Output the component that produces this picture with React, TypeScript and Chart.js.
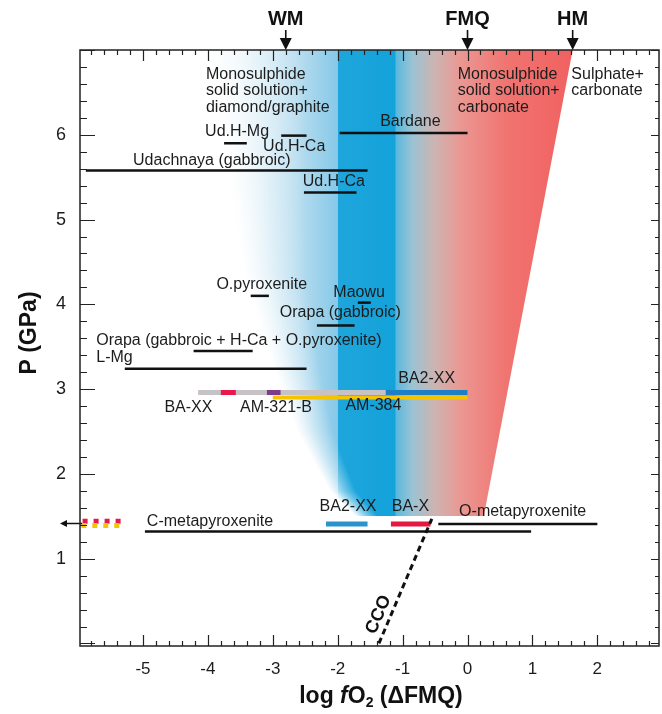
import React, { useEffect, useRef } from 'react';
import { Chart, registerables } from 'chart.js';

Chart.register(...registerables);

const FONT = '"Liberation Sans", Arial, Helvetica, sans-serif';
const TXT = '#1c1c1c';

// axis ranges (log fO2 ΔFMQ, P GPa)
const X_MIN = -5.97;
const X_MAX = 2.95;
const Y_MIN = -0.03;
const Y_MAX = 7.0;

const xTickLabels = [-5, -4, -3, -2, -1, 0, 1, 2];
const yTickLabels = [1, 2, 3, 4, 5, 6];

// black range segments
const segNames = [
  'Ud.H-Mg', 'Ud.H-Ca (upper)', 'Bardane', 'Udachnaya (gabbroic)', 'Ud.H-Ca (lower)',
  'O.pyroxenite', 'Maowu', 'Orapa (gabbroic)', 'Orapa (gabbroic + H-Ca + O.pyroxenite)',
  'L-Mg', 'C-metapyroxenite', 'O-metapyroxenite',
];
const segFrom = [-3.75, -2.87, -1.97, -5.88, -2.52, -3.34, -1.69, -2.32, -4.22, -5.28, -4.97, -0.45];
const segTo = [-3.40, -2.48, 0.0, -1.54, -1.71, -3.06, -1.49, -1.74, -3.31, -2.48, 0.98, 2.0];
const segP = [5.90, 5.99, 6.02, 5.58, 5.32, 4.10, 4.02, 3.75, 3.45, 3.24, 1.32, 1.41];

// coloured experimental bars (drawn in this order, later on top)
const barNames = ['BA-XX range', 'AM-384', 'BA2-XX', 'BA-XX', 'AM-321-B', 'BA2-XX (low P)', 'BA-X'];
const barFrom = [-4.15, -3.0, -1.26, -3.80, -3.09, -2.18, -1.18];
const barTo = [0.0, 0.0, 0.0, -3.57, -2.88, -1.54, -0.57];
const barP = [2.96, 2.90, 2.96, 2.96, 2.96, 1.41, 1.41];
const barColors = ['#c6c2c6', '#f4c400', '#1f7fc6', '#e8174c', '#7d3c8c', '#2b93cc', '#e3173f'];

// dotted extension to lower fO2 (left edge)
const extFrom = [-5.93, -5.95];
const extTo = [-5.30, -5.32];
const extP = [1.44, 1.39];
const extColors = ['#e8174c', '#f4c400'];

// CCO buffer curve
const ccoV = [-1.365, -0.55];
const ccoP = [0.0, 1.47];

// oxygen buffers on top axis
const bufferNames = ['WM', 'FMQ', 'HM'];
const bufferV = [-2.8, 0.0, 1.62];

// coloured stability field: left (soft) boundary and right boundary
const leftEdgeP = [1.5, 1.8, 2.5, 3.3, 4.4, 5.6, 7.0];
const leftEdgeV = [-1.55, -1.92, -2.35, -2.65, -2.98, -3.1, -3.25];
const rightEdgeP = [1.5, 7.0];
const rightEdgeV = [0.25, 1.62];
const fieldStopV = [-3.6, -2.6, -2.0, -1.99, -1.12, -1.10, -0.85, -0.5, -0.1, 0.6, 1.7];
const fieldStopC = ['#dff0f8', '#b6dcef', '#86c9e8', '#1ea6dc', '#13a2da', '#5ab8de', '#9bc3d4', '#cdb4b1', '#eb9792', '#f07470', '#f06060'];

// annotation texts
const labelText = [
  'Monosulphide|solid solution+|diamond/graphite',
  'Monosulphide|solid solution+|carbonate',
  'Sulphate+|carbonate',
  'Ud.H-Mg', 'Ud.H-Ca', 'Bardane', 'Udachnaya (gabbroic)', 'Ud.H-Ca',
  'O.pyroxenite', 'Maowu', 'Orapa (gabbroic)',
  'Orapa (gabbroic + H-Ca + O.pyroxenite)', 'L-Mg',
  'BA-XX', 'AM-321-B', 'AM-384', 'BA2-XX',
  'BA2-XX', 'BA-X', 'C-metapyroxenite', 'O-metapyroxenite',
];
const labelV = [
  -4.03, -0.15, 1.60,
  -3.55, -2.67, -0.88, -3.94, -2.06,
  -3.17, -1.67, -1.96,
  -5.72, -5.72,
  -4.30, -2.95, -1.45, -0.63,
  -1.84, -0.88, -4.94, 0.85,
];
const labelP = [
  6.71, 6.71, 6.71,
  6.04, 5.86, 6.16, 5.69, 5.45,
  4.23, 4.14, 3.90,
  3.57, 3.37,
  2.78, 2.78, 2.80, 3.13,
  1.61, 1.61, 1.44, 1.55,
];
const labelAlign = [
  'left', 'left', 'left',
  'center', 'center', 'center', 'center', 'center',
  'center', 'center', 'center',
  'left', 'left',
  'center', 'center', 'center', 'center',
  'center', 'center', 'left', 'center',
];
const ccoLabel = { text: 'CCO', v: -1.37, p: 0.34 };

function interp(xs: number[], ys: number[], x: number) {
  if (x <= xs[0]) return ys[0];
  for (let i = 1; i < xs.length; i++) {
    if (x <= xs[i]) {
      const t = (x - xs[i - 1]) / (xs[i] - xs[i - 1]);
      return ys[i - 1] + t * (ys[i] - ys[i - 1]);
    }
  }
  return ys[ys.length - 1];
}

const customPlugin = {
  id: 'customDraw',
  beforeDatasetsDraw(chart: any) {
    const { ctx, chartArea: ca, scales } = chart;
    const x = scales.x, y = scales.y;
    ctx.save();
    ctx.beginPath();
    ctx.rect(ca.left, ca.top, ca.right - ca.left, ca.bottom - ca.top);
    ctx.clip();
    const g0 = x.getPixelForValue(X_MIN), g1 = x.getPixelForValue(X_MAX);
    const grad = ctx.createLinearGradient(g0, 0, g1, 0);
    fieldStopV.forEach((v, i) => grad.addColorStop((v - X_MIN) / (X_MAX - X_MIN), fieldStopC[i]));
    const pTop = leftEdgeP[leftEdgeP.length - 1];
    const pBot = leftEdgeP[0];
    const yTop = Math.floor(y.getPixelForValue(pTop)) - 1;
    const yBot = Math.round(y.getPixelForValue(pBot));
    for (let py = yTop; py < yBot; py++) {
      const P = y.getValueForPixel(py + 0.5);
      const t = Math.max(0, Math.min(1, (P - pBot) / (pTop - pBot)));
      const fw = 22 + 75 * t;
      const xc = x.getPixelForValue(interp(leftEdgeP, leftEdgeV, P));
      const xs = xc - fw / 2;
      const xr = x.getPixelForValue(interp(rightEdgeP, rightEdgeV, P));
      ctx.fillStyle = grad;
      ctx.fillRect(xs, py, xr - xs, 1);
      const wg = ctx.createLinearGradient(xs, 0, xs + fw, 0);
      wg.addColorStop(0, 'rgba(255,255,255,1)');
      wg.addColorStop(0.5, 'rgba(255,255,255,0.45)');
      wg.addColorStop(1, 'rgba(255,255,255,0)');
      ctx.fillStyle = wg;
      ctx.fillRect(xs - 1, py, fw + 1, 1);
    }
    ctx.restore();
  },
  afterDatasetsDraw(chart: any) {
    const { ctx, chartArea: ca, scales } = chart;
    const x = scales.x, y = scales.y;
    ctx.save();
    // annotation labels
    ctx.fillStyle = TXT;
    ctx.font = `16px ${FONT}`;
    ctx.textBaseline = 'middle';
    labelText.forEach((t, i) => {
      const lines = t.split('|');
      ctx.textAlign = labelAlign[i] as CanvasTextAlign;
      const px = x.getPixelForValue(labelV[i]);
      const py = y.getPixelForValue(labelP[i]);
      lines.forEach((ln, k) => ctx.fillText(ln, px, py + k * 16.5));
    });
    // CCO label rotated along curve
    {
      const x0 = x.getPixelForValue(ccoV[0]), y0 = y.getPixelForValue(ccoP[0]);
      const x1 = x.getPixelForValue(ccoV[1]), y1 = y.getPixelForValue(ccoP[1]);
      const ang = Math.atan2(y1 - y0, x1 - x0);
      ctx.save();
      ctx.translate(x.getPixelForValue(ccoLabel.v), y.getPixelForValue(ccoLabel.p));
      ctx.rotate(ang);
      ctx.font = `bold 18px ${FONT}`;
      ctx.textAlign = 'center';
      ctx.fillStyle = '#111';
      ctx.fillText(ccoLabel.text, 0, 0);
      ctx.restore();
    }
    // left arrow for extension
    {
      const py = y.getPixelForValue((extP[0] + extP[1]) / 2);
      const xa = ca.left;
      ctx.strokeStyle = '#111';
      ctx.fillStyle = '#111';
      ctx.lineWidth = 1.5;
      ctx.beginPath();
      ctx.moveTo(xa + 2, py);
      ctx.lineTo(xa - 14, py);
      ctx.stroke();
      ctx.beginPath();
      ctx.moveTo(xa - 20, py);
      ctx.lineTo(xa - 13, py - 3.5);
      ctx.lineTo(xa - 13, py + 3.5);
      ctx.closePath();
      ctx.fill();
    }
    // frame
    ctx.strokeStyle = '#222';
    ctx.lineWidth = 1.5;
    ctx.strokeRect(ca.left, ca.top, ca.right - ca.left, ca.bottom - ca.top);
    // inward ticks
    ctx.lineWidth = 1.2;
    ctx.beginPath();
    const step = 0.2;
    for (let k = Math.ceil(X_MIN / step); k * step <= X_MAX + 1e-9; k++) {
      const v = k * step;
      const major = Math.abs(v - Math.round(v)) < 1e-6;
      const px = Math.round(x.getPixelForValue(v)) + 0.5;
      const len = major ? 11 : 5;
      ctx.moveTo(px, ca.bottom);
      ctx.lineTo(px, ca.bottom - len);
      ctx.moveTo(px, ca.top);
      ctx.lineTo(px, ca.top + len);
    }
    for (let k = Math.ceil(Y_MIN / step); k * step <= Y_MAX + 1e-9; k++) {
      const v = k * step;
      const major = Math.abs(v - Math.round(v)) < 1e-6;
      const py = Math.round(y.getPixelForValue(v)) + 0.5;
      ctx.moveTo(ca.left, py);
      ctx.lineTo(ca.left + (major ? 15 : 7), py);
      ctx.moveTo(ca.right, py);
      ctx.lineTo(ca.right - (major ? 8 : 4), py);
    }
    ctx.stroke();
    // buffers on top
    ctx.font = `bold 20px ${FONT}`;
    ctx.textAlign = 'center';
    ctx.textBaseline = 'middle';
    bufferNames.forEach((n, i) => {
      const px = x.getPixelForValue(bufferV[i]);
      ctx.fillStyle = '#111';
      ctx.fillText(n, px, 19);
      ctx.strokeStyle = '#111';
      ctx.lineWidth = 1.6;
      ctx.beginPath();
      ctx.moveTo(px, 30);
      ctx.lineTo(px, 40);
      ctx.stroke();
      ctx.beginPath();
      ctx.moveTo(px - 6, 38);
      ctx.lineTo(px + 6, 38);
      ctx.lineTo(px, ca.top);
      ctx.closePath();
      ctx.fill();
    });
    // y title
    ctx.save();
    ctx.translate(30, 333);
    ctx.rotate(-Math.PI / 2);
    ctx.font = `bold 23px ${FONT}`;
    ctx.textAlign = 'center';
    ctx.textBaseline = 'middle';
    ctx.fillStyle = '#111';
    ctx.fillText('P (GPa)', 0, 0);
    ctx.restore();
    // x title with italic f and subscript 2
    {
      const parts = [
        { t: 'log ', f: `bold 23px ${FONT}`, dy: 0 },
        { t: 'f', f: `italic bold 23px ${FONT}`, dy: 0 },
        { t: 'O', f: `bold 23px ${FONT}`, dy: 0 },
        { t: '2', f: `bold 14px ${FONT}`, dy: 6 },
        { t: ' (\u0394FMQ)', f: `bold 23px ${FONT}`, dy: 0 },
      ];
      let w = 0;
      parts.forEach(p => { ctx.font = p.f; w += ctx.measureText(p.t).width; });
      let cx = 381 - w / 2;
      const cy = 697;
      ctx.textAlign = 'left';
      ctx.textBaseline = 'middle';
      ctx.fillStyle = '#111';
      parts.forEach(p => {
        ctx.font = p.f;
        ctx.fillText(p.t, cx, cy + p.dy);
        cx += ctx.measureText(p.t).width;
      });
    }
    ctx.restore();
  },
};

export default function App() {
  const ref = useRef<HTMLCanvasElement | null>(null);
  useEffect(() => {
    if (!ref.current) return;
    const datasets: any[] = [];
    segNames.forEach((n, i) => {
      datasets.push({
        type: 'line', label: n,
        data: [{ x: segFrom[i], y: segP[i] }, { x: segTo[i], y: segP[i] }],
        borderColor: '#111', borderWidth: 2.5, pointRadius: 0, showLine: true, borderCapStyle: 'butt',
      });
    });
    barNames.forEach((n, i) => {
      datasets.push({
        type: 'line', label: n,
        data: [{ x: barFrom[i], y: barP[i] }, { x: barTo[i], y: barP[i] }],
        borderColor: barColors[i], borderWidth: i === 1 ? 4 : 5, pointRadius: 0, showLine: true, borderCapStyle: 'butt',
      });
    });
    extFrom.forEach((f, i) => {
      datasets.push({
        type: 'line', label: 'ext' + i,
        data: [{ x: f, y: extP[i] }, { x: extTo[i], y: extP[i] }],
        borderColor: extColors[i], borderWidth: 5, borderDash: [5, 6], borderDashOffset: 0,
        pointRadius: 0, showLine: true, borderCapStyle: 'butt',
      });
    });
    datasets.push({
      type: 'line', label: 'CCO',
      data: ccoV.map((v, i) => ({ x: v, y: ccoP[i] })),
      borderColor: '#111', borderWidth: 3, borderDash: [6, 4], pointRadius: 0, showLine: true, borderCapStyle: 'butt',
    });
    // Chart.js paints dataset 0 on top: give later datasets higher priority
    datasets.forEach((d, i) => { d.order = datasets.length - i; });

    const chart = new Chart(ref.current, {
      type: 'scatter',
      data: { datasets },
      options: {
        animation: false,
        responsive: false,
        maintainAspectRatio: false,
        layout: { padding: { top: 50, right: 3, left: 0, bottom: 0 } },
        plugins: { legend: { display: false }, tooltip: { enabled: false }, title: { display: false } },
        scales: {
          x: {
            type: 'linear', min: X_MIN, max: X_MAX,
            grid: { display: false }, border: { display: false },
            afterBuildTicks: (s: any) => { s.ticks = xTickLabels.map(v => ({ value: v })); },
            afterFit: (s: any) => { s.height = 68; },
            ticks: { autoSkip: false, maxRotation: 0, padding: 5, color: TXT, font: { family: FONT, size: 17 } },
          },
          y: {
            type: 'linear', min: Y_MIN, max: Y_MAX,
            grid: { display: false }, border: { display: false },
            afterBuildTicks: (s: any) => { s.ticks = yTickLabels.map(v => ({ value: v })); },
            afterFit: (s: any) => { s.width = 80; },
            ticks: { autoSkip: false, padding: 6, color: TXT, font: { family: FONT, size: 18 } },
          },
        },
      } as any,
      plugins: [customPlugin],
    });
    return () => chart.destroy();
  }, []);
  return (
    <div style={{ position: 'fixed', left: 0, top: 0, width: 662, height: 714, background: '#fff' }}>
      <canvas ref={ref} width={662} height={714} style={{ width: 662, height: 714, display: 'block' }} />
    </div>
  );
}
